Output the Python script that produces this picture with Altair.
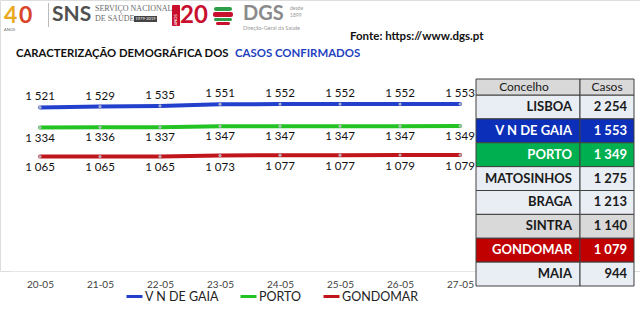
import altair as alt
import pandas as pd

# ---------------- data ----------------
dates = ["20-05", "21-05", "22-05", "23-05", "24-05", "25-05", "26-05", "27-05"]
gaia = [1521, 1529, 1535, 1551, 1552, 1552, 1552, 1553]
porto = [1334, 1336, 1337, 1347, 1347, 1347, 1347, 1349]
gondomar = [1065, 1065, 1065, 1073, 1077, 1077, 1079, 1079]
series_names = ["V N DE GAIA", "PORTO", "GONDOMAR"]

concelhos = ["LISBOA", "V N DE GAIA", "PORTO", "MATOSINHOS", "BRAGA", "SINTRA", "GONDOMAR", "MAIA"]
casos = [2254, 1553, 1349, 1275, 1213, 1140, 1079, 944]
highlighted = ["V N DE GAIA", "PORTO", "GONDOMAR"]

# ---------------- styles ----------------
FONT = "Lato"
series_colors = ["#2240cc", "#22c322", "#c0161b"]
row_fills = ["#e9edf4", "#0b2fb8", "#00b050", "#e9edf4", "#e9edf4", "#d9d9d9", "#c00000", "#e9edf4"]
label_dy = {"V N DE GAIA": -10, "PORTO": 11, "GONDOMAR": 12}

rows = []
for name, vals in zip(series_names, [gaia, porto, gondomar]):
    for d, v in zip(dates, vals):
        rows.append({"date": d, "serie": name, "casos": v})
lines_df = pd.DataFrame(rows)
table_df = pd.DataFrame({"concelho": concelhos, "casos": casos})
one = alt.Data(values=[{}])

LABEL_EXPR = "replace(format(datum.casos, ','), ',', ' ')"

x_enc = alt.X(
    "date:O", sort=dates,
    scale=alt.Scale(type="point", range=[10, 490], padding=0.5),
    axis=alt.Axis(title=None, labelAngle=0, ticks=False, tickSize=0, labelPadding=8,
                  labelFontSize=10, labelFont=FONT, labelColor="#404040",
                  domainColor="#e6e6e6", domainWidth=1, grid=False),
)
y_enc = alt.Y("casos:Q", scale=alt.Scale(domain=[0, 2520], nice=False, zero=True), axis=None)

base = alt.Chart(lines_df)
lines = base.mark_line(strokeWidth=4, strokeCap="round").encode(
    x=x_enc, y=y_enc,
    color=alt.Color(
        "serie:N",
        scale=alt.Scale(domain=series_names, range=series_colors),
        legend=alt.Legend(title=None, orient="none", legendX=125, legendY=287,
                          direction="horizontal", symbolType="stroke", symbolStrokeWidth=3,
                          symbolSize=256, labelFontSize=12.5, labelFont=FONT,
                          labelColor="#222222", columnPadding=15, labelOffset=1),
    ),
    detail="serie:N",
)
pts = base.mark_point(filled=True, size=10, color="#b8bcc8", opacity=0.9).encode(x=x_enc, y=y_enc)

label_layers = []
for name in series_names:
    label_layers.append(
        base.transform_filter(alt.datum.serie == name)
        .transform_calculate(label=LABEL_EXPR)
        .mark_text(dy=label_dy[name], fontSize=11.5, font=FONT, color="#111111")
        .encode(x=x_enc, y=y_enc, text="label:N")
    )

line_group = alt.layer(lines, pts, *label_layers)

# ---------------- table ----------------
y_tab = alt.Y("concelho:N", sort=concelhos,
              scale=alt.Scale(type="band", range=[95, 286], paddingInner=0, paddingOuter=0),
              axis=None)
tbase = alt.Chart(table_df)
fill_enc = alt.Fill("concelho:N", scale=alt.Scale(domain=concelhos, range=row_fills), legend=None)
cell1 = tbase.mark_rect(stroke="#404040", strokeWidth=1).encode(
    x=alt.value(476), x2=alt.value(580), y=y_tab, fill=fill_enc)
cell2 = tbase.mark_rect(stroke="#404040", strokeWidth=1).encode(
    x=alt.value(580), x2=alt.value(634), y=y_tab, fill=fill_enc)

def table_text(filt, color):
    name_t = tbase.transform_filter(filt).mark_text(
        align="right", baseline="middle", fontSize=13, fontWeight="bold", font=FONT, color=color
    ).encode(x=alt.value(572), y=y_tab, text="concelho:N")
    val_t = tbase.transform_filter(filt).transform_calculate(label=LABEL_EXPR).mark_text(
        align="right", baseline="middle", fontSize=13, fontWeight="bold", font=FONT, color=color
    ).encode(x=alt.value(627), y=y_tab, text="label:N")
    return [name_t, val_t]

is_hl = alt.FieldOneOfPredicate(field="concelho", oneOf=highlighted)
texts = table_text(is_hl, "#ffffff") + table_text(alt.LogicalNotPredicate(**{"not": is_hl}), "#1a1a1a")

hdr1 = alt.Chart(one).mark_rect(fill="#d9d9d9", stroke="#404040", strokeWidth=1).encode(
    x=alt.value(476), x2=alt.value(580), y=alt.value(79), y2=alt.value(95))
hdr2 = alt.Chart(one).mark_rect(fill="#d9d9d9", stroke="#404040", strokeWidth=1).encode(
    x=alt.value(580), x2=alt.value(634), y=alt.value(79), y2=alt.value(95))

def txt(s, x, y, size, color, weight="normal", align="left", font=FONT, angle=0):
    kw = dict(text=s, align=align, baseline="middle", fontSize=size, fontWeight=weight,
              color=color, font=font)
    if angle:
        kw["angle"] = angle
    return alt.Chart(one).mark_text(**kw).encode(x=alt.value(x), y=alt.value(y))

hdr_txt = [txt("Concelho", 524, 87, 12, "#1a1a1a", align="center"),
           txt("Casos", 607, 87, 12, "#1a1a1a", align="center")]

table_group = alt.layer(cell1, cell2, *texts, hdr1, hdr2, *hdr_txt)

# ---------------- header / titles ----------------
def box(x1, x2, y1, y2, color, **kw):
    return alt.Chart(one).mark_rect(fill=color, **kw).encode(
        x=alt.value(x1), x2=alt.value(x2), y=alt.value(y1), y2=alt.value(y2))

header = [
    txt("4", 4, 16, 23, "#e9a91e", weight="bold"),
    txt("0", 19, 16, 23, "#d9452a", weight="bold"),
    txt("ANOS", 4, 30, 4, "#666666"),
    box(48, 49, 3, 27, "#bbbbbb"),
    txt("SNS", 52, 15, 21, "#505050", weight="bold"),
    txt("SERVIÇO NACIONAL", 95, 9, 8, "#6a6a6a", font="Liberation Sans Narrow"),
    txt("DE SAÚDE", 95, 19, 8, "#6a6a6a", font="Liberation Sans Narrow"),
    box(134, 157, 16, 22, "#444444"),
    txt("1979-2019", 145.5, 19, 4, "#ffffff", align="center"),
    box(172, 180, 5, 26, "#c8102e", cornerRadius=1),
    txt("ANOS", 176, 20, 4, "#ffffff", align="center", angle=270),
    txt("20", 180, 16, 24, "#c8102e", weight="bold"),
    box(214, 232, 7, 11, "#2e9e48", cornerRadius=2),
    box(213, 233, 12, 17, "#c8102e", cornerRadius=2),
    box(214, 232, 18, 21, "#2e9e48", cornerRadius=2),
    box(216, 230, 22, 25, "#c8102e", cornerRadius=2),
    txt("DGS", 243, 14, 20, "#8a8a8a", weight="bold"),
    txt("desde", 290, 8, 5, "#999999"),
    txt("1899", 290, 15, 5, "#999999"),
    txt("Direção-Geral da Saúde", 243, 28, 5.5, "#999999"),
    txt("Fonte: https://www.dgs.pt", 350, 37, 11.5, "#111111", weight="bold"),
    txt("CARACTERIZAÇÃO DEMOGRÁFICA DOS", 16, 54, 11.3, "#111111", weight="bold"),
    txt("CASOS CONFIRMADOS", 235, 54, 11.4, "#1f3fbf", weight="bold"),
]

chart = (
    alt.layer(line_group, table_group, *header)
    .resolve_scale(y="independent", fill="independent")
    .properties(width=640, height=271, autosize="none",
                padding={"left": 0, "right": 0, "top": 0, "bottom": 49})
    .configure_view(stroke=None, strokeWidth=0)
    .configure_legend(strokeColor="transparent", fillColor="transparent")
    .configure(background="#ffffff")
)

chart.save("out.html", embed_options={"renderer": "svg", "actions": False})
